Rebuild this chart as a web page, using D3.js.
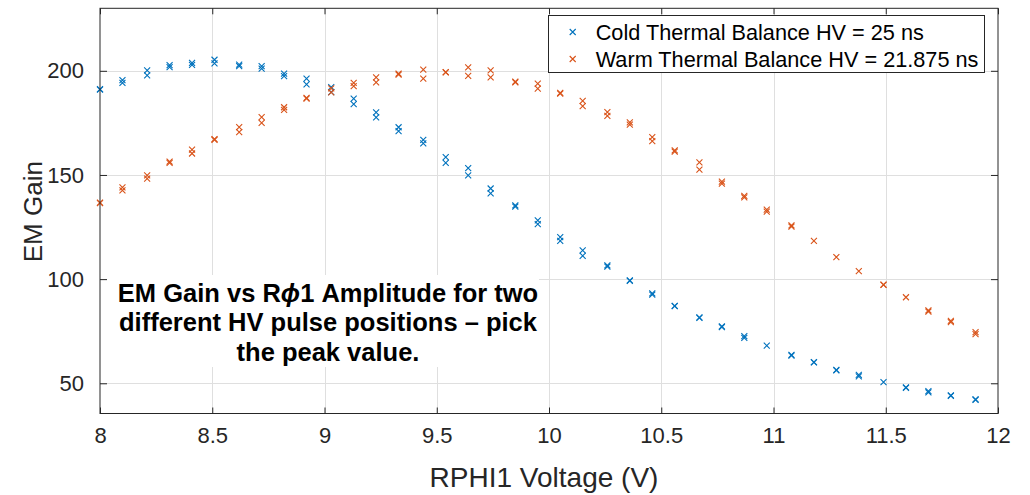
<!DOCTYPE html>
<html>
<head>
<meta charset="utf-8">
<script src="https://cdn.jsdelivr.net/npm/d3@7"></script>
<style>
  html, body { margin: 0; padding: 0; background: #fff; }
  svg { display: block; font-family: "Liberation Sans", Arial, Helvetica, sans-serif; }
</style>
</head>
<body>
<svg id="chart" width="1030" height="495"></svg>
<script>
// RPHI1 voltage sweep (V)
const voltage = [8.00, 8.10, 8.21, 8.31, 8.41, 8.51, 8.62, 8.72, 8.82, 8.92,
                 9.03, 9.13, 9.23, 9.33, 9.44, 9.54, 9.64, 9.74, 9.85, 9.95,
                 10.05, 10.15, 10.26, 10.36, 10.46, 10.56, 10.67, 10.77, 10.87, 10.97,
                 11.08, 11.18, 11.28, 11.38, 11.49, 11.59, 11.69, 11.79, 11.90];

// Cold thermal balance, HV = 25 ns (two repeated sweeps)
const coldRunA = [191.2, 195.5, 200.2, 202.7, 203.8, 205.3, 203.0, 202.2, 198.6, 196.2,
                  192.2, 186.6, 180.0, 172.9, 166.8, 158.6, 153.3, 143.5, 135.4, 128.2,
                  120.2, 113.8, 106.6, 99.4, 93.2, 87.2, 81.6, 77.3, 72.6, 68.1,
                  63.6, 60.2, 56.4, 54.0, 50.6, 48.0, 46.2, 44.2, 42.3];
const coldRunB = [191.0, 194.2, 197.8, 201.8, 202.8, 203.6, 202.2, 201.0, 197.4, 193.5,
                  189.8, 184.0, 177.6, 171.0, 165.2, 155.8, 149.8, 141.2, 134.8, 126.4,
                  118.4, 111.2, 106.0, 99.2, 92.6, 87.0, 81.4, 77.0, 71.8, null,
                  63.3, 60.0, 56.2, 53.3, null, 47.8, 45.6, 44.0, 42.1];

// Warm thermal balance, HV = 21.875 ns (two repeated sweeps)
const warmRunA = [136.7, 144.0, 149.8, 156.4, 162.2, 167.2, 173.0, 177.8, 182.5, 187.0,
                  191.6, 194.2, 196.8, 198.6, 200.6, 199.4, 201.6, 200.2, 194.8, 193.8,
                  189.4, 185.6, 180.2, 175.2, 168.2, 161.8, 156.0, 146.8, 140.0, 133.4,
                  125.8, 118.4, 110.6, 103.8, 97.4, 91.3, 85.0, 80.0, 74.6];
const warmRunB = [136.5, 142.6, 148.2, 155.8, 160.3, 166.9, 170.6, 175.0, 181.2, 186.6,
                  189.6, 192.6, 194.4, 198.2, 196.2, 199.2, 197.6, 196.8, 194.4, 191.4,
                  189.0, 183.0, 178.4, 174.2, 166.2, 161.2, 152.6, 145.8, 139.2, 132.4,
                  125.2, null, null, null, 97.2, null, 84.4, 79.4, 73.6];

const xTicks = [8, 8.5, 9, 9.5, 10, 10.5, 11, 11.5, 12];
const yTicks = [50, 100, 150, 200];
const seriesNames = ["Cold Thermal Balance HV = 25 ns", "Warm Thermal Balance HV = 21.875 ns"];
const seriesColors = ["#0072BD", "#D95319"];
const noteLines = ["EM Gain vs R\u03D51 Amplitude for two", "different HV pulse positions \u2013 pick", "the peak value."];

const svg = d3.select("#chart");
const axisColor = "#262626";
const plot = { left: 100, right: 998, top: 8.3, bottom: 413.5 };

const x = d3.scaleLinear().domain([8, 12]).range([plot.left, plot.right]);
const y = d3.scaleLinear().domain([35.5, 230]).range([plot.bottom, plot.top]);

// grid
const grid = svg.append("g").attr("stroke", "#dfdfdf").attr("stroke-width", 1);
grid.selectAll("line.gx").data(xTicks.slice(1, -1)).join("line")
  .attr("x1", d => Math.round(x(d)) + 0.5).attr("x2", d => Math.round(x(d)) + 0.5)
  .attr("y1", plot.top).attr("y2", plot.bottom);
grid.selectAll("line.gy").data(yTicks).join("line")
  .attr("y1", d => Math.round(y(d)) + 0.5).attr("y2", d => Math.round(y(d)) + 0.5)
  .attr("x1", plot.left).attr("x2", plot.right);

// text note with white background
const noteX = 328, noteY0 = 301.7, noteDy = 29.5;
svg.append("rect").attr("x", 107).attr("y", 275).attr("width", 432).attr("height", 92).attr("fill", "#fff");
const note = svg.append("text").attr("text-anchor", "middle").attr("font-weight", "bold")
  .attr("font-size", 25.5).attr("fill", "#000");
noteLines.forEach((line, i) => {
  const t = note.append("tspan").attr("x", noteX).attr("y", noteY0 + i * noteDy);
  if (line.includes("\u03D5")) {
    const [a, b] = line.split("\u03D5");
    t.text(a);
    note.append("tspan").attr("font-style", "italic").text("\u03D5");
    note.append("tspan").text(b);
  } else {
    t.text(line);
  }
});

// markers
function cross(g, cx, cy, color, s) {
  g.append("path")
    .attr("d", `M${cx - s},${cy - s}L${cx + s},${cy + s}M${cx - s},${cy + s}L${cx + s},${cy - s}`)
    .attr("stroke", color).attr("stroke-width", 1.1).attr("fill", "none");
}
const series = [[coldRunA, coldRunB], [warmRunA, warmRunB]];
series.forEach((runs, si) => {
  const g = svg.append("g");
  runs.forEach(run => {
    run.forEach((v, i) => {
      if (v == null) return;
      cross(g, x(voltage[i]), y(v), seriesColors[si], 3);
    });
  });
});

// axes (box with inward ticks)
const xAxisB = d3.axisBottom(x).tickValues(xTicks).tickSizeInner(-6).tickSizeOuter(0).tickPadding(14)
  .tickFormat(d3.format("~g"));
const xAxisT = d3.axisTop(x).tickValues(xTicks).tickSizeInner(-6).tickSizeOuter(0).tickFormat("");
const yAxisL = d3.axisLeft(y).tickValues(yTicks).tickSizeInner(-7).tickSizeOuter(0).tickPadding(16);
const yAxisR = d3.axisRight(y).tickValues(yTicks).tickSizeInner(-7).tickSizeOuter(0).tickFormat("");

function styleAxis(g) {
  g.select(".domain").remove();
  g.selectAll("line").attr("stroke", axisColor);
  g.selectAll("text").attr("fill", axisColor).attr("font-size", 22)
    .attr("font-family", "'Liberation Sans', Arial, sans-serif");
}
svg.append("g").attr("transform", `translate(0,${plot.bottom})`).call(xAxisB).call(styleAxis);
svg.append("g").attr("transform", `translate(0,${plot.top})`).call(xAxisT).call(styleAxis);
svg.append("g").attr("transform", `translate(${plot.left},0)`).call(yAxisL).call(styleAxis);
svg.append("g").attr("transform", `translate(${plot.right},0)`).call(yAxisR).call(styleAxis);

svg.append("rect").attr("x", plot.left).attr("y", plot.top)
  .attr("width", plot.right - plot.left).attr("height", plot.bottom - plot.top)
  .attr("fill", "none").attr("stroke", axisColor).attr("stroke-width", 1);

// axis titles
svg.append("text").attr("x", 544).attr("y", 486.7).attr("text-anchor", "middle")
  .attr("font-size", 28).attr("fill", axisColor).text("RPHI1 Voltage (V)");
svg.append("text").attr("transform", "translate(41.5,211.7) rotate(-90)").attr("text-anchor", "middle")
  .attr("font-size", 26).attr("fill", axisColor).text("EM Gain");

// legend
const leg = svg.append("g");
leg.append("rect").attr("x", 548.5).attr("y", 15.5).attr("width", 436).attr("height", 57)
  .attr("fill", "#fff").attr("stroke", axisColor).attr("stroke-width", 1);
seriesNames.forEach((name, i) => {
  const cy = 32 + i * 27;
  cross(leg, 572.7, cy, seriesColors[i], 3);
  leg.append("text").attr("x", 595.7).attr("y", cy + 7.5).attr("font-size", 21.7)
    .attr("fill", "#000").text(name);
});
</script>
</body>
</html>
